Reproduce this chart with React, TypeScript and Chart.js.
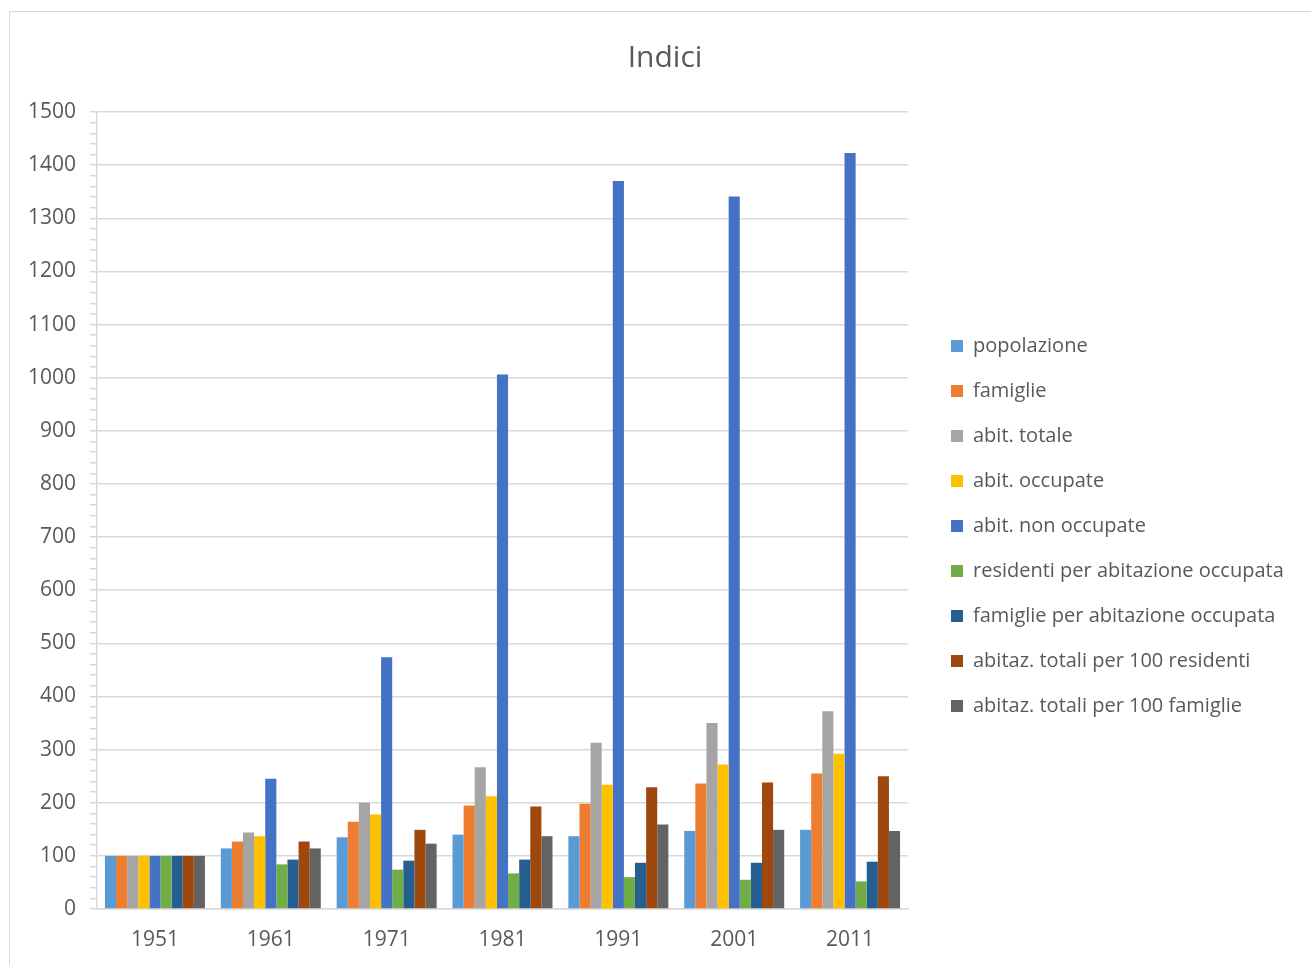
import React, { useEffect, useRef } from "react";
import { Chart, registerables } from "chart.js";

Chart.register(...registerables);

const years = ["1951", "1961", "1971", "1981", "1991", "2001", "2011"];
const popolazione = [100, 114, 135, 140, 137, 147, 149];
const famiglie = [100, 127, 164, 195, 198, 236, 255];
const abitTotale = [100, 144, 200, 267, 313, 350, 372];
const abitOccupate = [100, 137, 178, 212, 234, 272, 292];
const abitNonOccupate = [100, 245, 474, 1006, 1370, 1341, 1423];
const residentiPerAbitazione = [100, 84, 74, 67, 60, 55, 52];
const famigliePerAbitazione = [100, 93, 91, 93, 87, 87, 89];
const abitazPer100Residenti = [100, 127, 149, 193, 229, 238, 250];
const abitazPer100Famiglie = [100, 114, 123, 137, 159, 149, 147];

const seriesNames = [
  "popolazione",
  "famiglie",
  "abit. totale",
  "abit. occupate",
  "abit. non occupate",
  "residenti per abitazione occupata",
  "famiglie per abitazione occupata",
  "abitaz. totali per 100 residenti",
  "abitaz. totali per 100 famiglie",
];
const seriesValues = [
  popolazione,
  famiglie,
  abitTotale,
  abitOccupate,
  abitNonOccupate,
  residentiPerAbitazione,
  famigliePerAbitazione,
  abitazPer100Residenti,
  abitazPer100Famiglie,
];
const seriesColors = [
  "#5B9BD5",
  "#ED7D31",
  "#A5A5A5",
  "#FFC000",
  "#4472C4",
  "#70AD47",
  "#255E91",
  "#9E480E",
  "#636363",
];

const W = 1310;
const H = 1028;
const LEGEND_W = 394;
const TEXT = "#595959";
const GRID = "#d9d9d9";

export default function App() {
  const ref = useRef<HTMLCanvasElement | null>(null);

  useEffect(() => {
    document.body.style.overflow = "hidden";
    const canvas = ref.current;
    if (!canvas) return;
    Chart.defaults.font.family = "'Open Sans', sans-serif";

    const legendWidthPlugin = {
      id: "legendWidth",
      beforeLayout(chart: any) {
        const lg = chart.legend;
        if (lg && !lg.__patched) {
          const orig = lg.fit.bind(lg);
          lg.fit = function () {
            orig();
            lg.width = LEGEND_W;
          };
          lg.__patched = true;
        }
      },
    };

    const chart = new Chart(canvas, {
      type: "bar",
      data: {
        labels: years,
        datasets: seriesNames.map((name, i) => ({
          label: name,
          data: seriesValues[i],
          backgroundColor: seriesColors[i],
          borderWidth: 0,
          barPercentage: 1,
          categoryPercentage: 0.863,
        })),
      },
      plugins: [legendWidthPlugin],
      options: {
        responsive: false,
        animation: false,
        devicePixelRatio: 1,
        layout: { padding: 0 },
        plugins: {
          title: {
            display: true,
            text: "Indici",
            color: TEXT,
            font: { size: 30, weight: "normal" },
            padding: { top: 28, bottom: 36 },
          },
          legend: {
            position: "right",
            align: "center",
            labels: {
              color: TEXT,
              font: { size: 20 },
              boxWidth: 12,
              boxHeight: 12,
              padding: 25,
            },
          },
          tooltip: { enabled: false },
        },
        scales: {
          x: {
            grid: { display: false, drawTicks: false },
            border: { display: true, color: GRID, width: 1.5 },
            ticks: { color: TEXT, font: { size: 21 }, padding: 18 },
            afterFit: (scale: any) => {
              scale.height = 131;
            },
          },
          y: {
            min: 0,
            max: 1500,
            ticks: {
              stepSize: 20,
              autoSkip: false,
              color: TEXT,
              font: { size: 21 },
              padding: 14,
              callback: (v: any) => (Number(v) % 100 === 0 ? String(v) : ""),
            },
            grid: {
              color: (ctx: any) =>
                ctx.tick && ctx.tick.value % 100 === 0 ? GRID : "rgba(0,0,0,0)",
              tickColor: GRID,
              tickLength: 7,
              lineWidth: 1.5,
            },
            border: { display: true, color: GRID, width: 1.5 },
            afterFit: (scale: any) => {
              scale.width = 87;
            },
          },
          gap: {
            type: "linear",
            position: "right",
            display: true,
            grid: { display: false, drawTicks: false },
            border: { display: false },
            ticks: { display: false },
            afterFit: (scale: any) => {
              scale.width = W - 898 - LEGEND_W;
            },
          },
        },
      } as any,
    });
    return () => chart.destroy();
  }, []);

  return (
    <div
      style={{
        position: "fixed",
        left: 9,
        top: 11,
        width: W,
        height: H,
        border: "1px solid #d9d9d9",
        background: "#fff",
      }}
    >
      <canvas ref={ref} width={W} height={H} style={{ display: "block", width: W, height: H }} />
    </div>
  );
}
